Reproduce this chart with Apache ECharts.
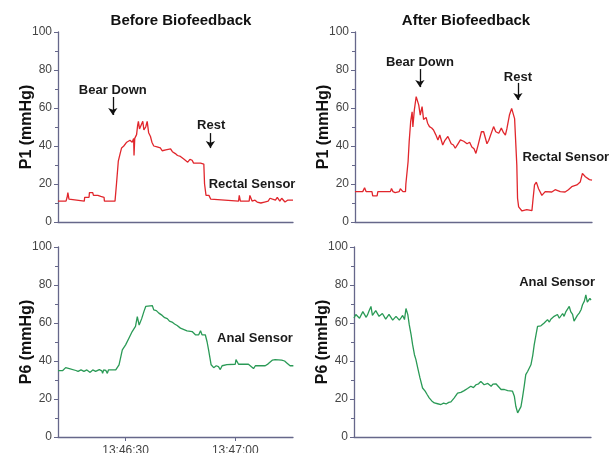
<!DOCTYPE html>
<html>
<head>
<meta charset="utf-8">
<script src="https://cdn.jsdelivr.net/npm/echarts@6/dist/echarts.min.js"></script>
<style>html,body{margin:0;padding:0;background:#fff}#c{width:614px;height:453px}</style>
</head>
<body>
<div id="c"></div>
<script>
// time in seconds after 13:46:00, pressure in mmHg
const panelTitles = ['Before Biofeedback', 'After Biofeedback'];
const yNames = ['P1 (mmHg)', 'P6 (mmHg)'];
const timeTicks = [30, 60];
const yTicks = [0, 20, 40, 60, 80, 100];

const beforeP1 = [[11.5,11],[13.7,11],[14.0,13],[14.2,15.5],[14.5,12],[14.8,11],[18.7,11],[18.8,13],[20.0,13],[20.1,15.5],[21.0,15.5],[21.2,14],[21.6,15],[22.4,14],[22.6,15],[23.2,13.5],[24.1,13],[24.2,11],[27.1,11],[27.5,20],[28.0,32],[28.5,36],[28.9,39],[29.5,40],[30.0,40.5],[30.3,42],[30.8,41],[31.2,43],[31.8,42],[32.2,44],[32.3,35],[32.5,44],[33.0,46],[33.3,51],[33.5,53],[33.8,49],[34.3,50],[34.7,53],[35.0,48.5],[35.5,50],[35.9,53],[36.3,47],[36.8,45],[37.2,42],[37.7,40],[38.6,39.5],[39.0,38.5],[39.5,39],[40.0,37.5],[40.5,37],[41.0,38],[41.5,37.5],[42.3,38.5],[42.8,37],[43.6,36],[44.2,35],[45.0,34.5],[45.5,34],[46.0,33],[46.4,32.5],[47.0,31.5],[47.6,33],[48.2,32.5],[48.6,31],[49.1,31],[50.5,31],[51.0,30.5],[51.4,30.5],[51.6,20],[52.0,14],[52.4,15],[52.8,14],[53.3,12],[53.6,11],[60.9,11],[61.1,14],[61.4,11],[63.8,11],[64.0,14],[64.4,14],[64.6,11],[65.4,11.5],[66.0,10.5],[67.0,10],[68.0,10.5],[68.5,10],[69.0,11],[69.5,12.5],[70.2,12],[70.5,13],[71.0,11.5],[71.5,13],[72.2,11],[72.7,12.5],[73.2,13],[73.6,10.5],[74.3,11.5],[75.8,11.5]];

const afterP1 = [[11.5,16],[13.6,16],[14.1,18],[14.5,16],[16.1,16],[16.3,13.8],[17.5,13.8],[17.7,16],[21.1,16],[21.4,17.6],[21.8,16],[22.4,15.5],[23.5,16],[23.8,17.5],[24.5,16],[25.2,16],[25.3,20],[25.9,31.7],[26.2,42.3],[26.6,52.8],[27.0,58],[27.2,50],[27.6,59],[28.1,66],[28.8,61.5],[29.2,56.3],[29.7,60.7],[30.1,54],[30.8,55],[31.2,52],[31.7,50.2],[32.3,49.5],[32.8,48.4],[33.4,46],[34.0,43.2],[34.5,45.8],[35.3,40.5],[35.9,43],[36.7,45],[37.6,41.2],[38.2,40.5],[38.7,38.8],[39.4,41],[40.1,43.2],[41.0,42.5],[41.9,41.2],[42.6,42],[43.2,39.5],[43.8,38.5],[44.3,36.1],[44.9,40.5],[45.8,47.5],[46.4,47.5],[47.3,41.2],[47.8,43],[48.2,42],[49.1,50.2],[49.7,47.5],[50.5,46.7],[51.2,49.4],[51.8,47],[52.3,45.8],[52.7,49],[53.4,56.3],[54.0,59.8],[54.8,54.4],[55.1,53.5],[55.4,30],[55.6,12.5],[55.9,8],[56.3,9],[56.8,5.8],[58.1,6.5],[59.5,6],[59.8,12],[60.2,19.5],[60.7,21],[61.3,17.5],[62.2,14],[63.1,16],[64.9,15.8],[65.8,17],[67.2,16],[68.5,15.8],[69.4,17],[70.3,18.6],[71.7,19.5],[72.6,21],[73.2,25.6],[74.0,23.8],[75.1,22.3],[75.8,22]];

const beforeP6 = [[11.5,34.9],[12.8,35],[13.2,35.5],[13.6,36.5],[14.1,37.5],[14.6,36],[15.0,35],[16.4,35],[17.0,34.5],[17.8,35.3],[18.6,34.5],[19.4,35.3],[20.3,34],[21.0,35.3],[21.8,34.5],[22.8,35.5],[23.5,34.8],[23.7,33.5],[24.0,35.3],[24.6,35],[25.0,33.5],[25.3,35.3],[27.3,35.3],[28.2,38],[29.1,45.9],[30.0,48.5],[30.9,52],[31.3,51],[31.8,55.5],[32.3,54.5],[32.7,58.2],[33.2,63.4],[33.7,58.9],[34.4,62.3],[35.0,66],[35.5,68.7],[37.3,69.2],[37.7,66.9],[38.4,66.5],[39.1,65.2],[40.0,64],[40.7,62.8],[41.4,62.3],[42.0,61],[42.7,60.5],[43.4,59.5],[44.1,58.7],[45.0,57.3],[46.8,55.9],[48.2,55.5],[48.5,54.5],[49.1,53.8],[50.0,53.8],[50.5,55.9],[50.9,53.8],[51.8,53.8],[52.3,50],[52.7,45.9],[53.4,38],[54.1,36.5],[54.8,37.5],[55.4,37],[55.9,35.5],[56.4,37.5],[56.8,37.5],[57.7,38.1],[60.0,38.3],[60.2,40.7],[60.6,40.5],[60.9,38.3],[63.6,38.3],[64.1,37.5],[65.0,36],[65.5,37.5],[68.2,37.5],[69.0,38.5],[69.5,39.5],[70.2,40.5],[70.9,40.7],[72.7,40.5],[73.5,40],[74.1,39],[75.0,37.5],[75.9,37.5]];

const afterP6 = [[11.5,62.6],[12.0,64.5],[12.5,65.2],[13.0,62.5],[13.4,63.5],[13.9,66.0],[14.3,67.0],[14.8,63.0],[15.2,64.4],[15.6,66.5],[16.1,68.7],[16.5,64.0],[17.0,64.5],[17.4,66.5],[17.9,67.0],[18.3,63.5],[18.8,62.6],[19.2,65.0],[19.7,64.4],[20.1,62.0],[20.6,62.6],[21.0,64.5],[21.5,63.5],[22.0,61.5],[22.4,61.8],[22.9,63.5],[23.3,63.5],[23.8,61.5],[24.2,62.6],[24.7,64.0],[25.2,61.8],[25.6,67.6],[26.1,64.4],[26.5,59.0],[27.0,53.8],[27.4,48.6],[27.9,43.3],[28.3,40.7],[28.8,36.3],[29.4,31.1],[30.1,25.8],[30.8,24.1],[31.3,22.5],[31.9,20.6],[32.6,19.0],[33.3,17.9],[34.2,17.5],[35.1,17.1],[35.8,17.8],[36.5,17.4],[37.2,18.2],[37.8,18.5],[38.7,20.6],[39.6,23.1],[40.5,23.5],[41.4,24.4],[42.3,25.5],[43.2,26.7],[43.9,26.0],[44.6,27.5],[45.3,28.0],[45.9,29.3],[46.4,28.5],[46.8,27.5],[47.3,27.0],[47.8,28.2],[48.2,27.5],[48.7,26.7],[49.2,27.8],[49.6,27.5],[50.0,28.0],[50.5,27.5],[51.4,25.0],[52.3,25.0],[53.2,24.4],[54.5,24.1],[55.0,21.5],[55.4,16.2],[55.9,12.7],[56.3,13.5],[56.8,16.0],[57.2,20.6],[57.7,27.0],[58.1,32.8],[58.6,34.5],[59.1,35.4],[59.5,38.0],[60.0,43.0],[60.4,48.6],[60.9,54.0],[61.3,58.2],[61.8,59.0],[62.2,58.5],[62.7,58.0],[63.1,60.0],[63.6,59.5],[64.0,61.8],[64.5,60.5],[64.9,62.0],[65.4,61.5],[65.8,63.5],[66.3,62.6],[66.7,64.5],[67.2,62.5],[67.6,63.5],[68.1,65.0],[68.5,63.5],[69.0,66.0],[69.4,65.0],[69.9,68.7],[70.3,66.0],[70.8,64.5],[71.2,61.0],[71.7,61.8],[72.1,64.0],[72.6,65.2],[73.1,67.0],[73.5,69.6],[74.0,71.5],[74.4,74.8],[74.8,71.0],[75.1,70.5],[75.5,73.0],[75.8,72.0]];

// annotation labels [time, mmHg, text] and arrows [time, fromMmHg, toMmHg]
const beforeP1Labels = [[26.5,69.5,'Bear Down'],[53.4,51,'Rest'],[64.6,20,'Rectal Sensor']];
const beforeP1Arrows = [[26.5,65.8,56.3],[53.2,46.8,38.9]];
const afterP1Labels = [[29.1,84.2,'Bear Down'],[55.7,76.3,'Rest'],[68.7,34.2,'Rectal Sensor']];
const afterP1Arrows = [[29.1,80.5,71],[55.7,73.2,64.2]];
const beforeP6Labels = [[65.4,51.7,'Anal Sensor']];
const afterP6Labels = [[66.6,81.1,'Anal Sensor']];

const X_MIN = 11.5, X_MAX = 75.8;
const AXIS_COLOR = '#66678a';
const FONT = 'Liberation Sans, Arial, sans-serif';
const RED = '#e1262c', GREEN = '#2a9a56';

function fmtTime(s) {
  const m = 46 + Math.floor(s / 60);
  const sec = Math.round(s % 60);
  return '13:' + m + ':' + String(sec).padStart(2, '0');
}

const grids = [
  {left: 58, top: 32, width: 235, height: 190, outerBoundsMode: 'none', containLabel: false},
  {left: 355, top: 32, width: 237, height: 190, outerBoundsMode: 'none', containLabel: false},
  {left: 58, top: 247, width: 235, height: 190, outerBoundsMode: 'none', containLabel: false},
  {left: 354, top: 247, width: 237, height: 190, outerBoundsMode: 'none', containLabel: false}
];

const xAxes = grids.map((g, i) => ({
  type: 'value', gridIndex: i, min: X_MIN, max: X_MAX,
  axisLine: {show: true, lineStyle: {color: AXIS_COLOR, width: 1.3}},
  axisTick: i === 2 ? {show: true, customValues: timeTicks, length: 4, lineStyle: {color: AXIS_COLOR}} : {show: false},
  axisLabel: i === 2 ? {show: true, customValues: timeTicks, formatter: fmtTime, margin: 8, fontSize: 12, color: '#444', fontFamily: FONT} : {show: false},
  splitLine: {show: false}
}));

const yAxes = grids.map((g, i) => ({
  type: 'value', gridIndex: i, min: yTicks[0], max: yTicks[yTicks.length - 1], interval: 20,
  name: yNames[i < 2 ? 0 : 1], nameLocation: 'middle', nameGap: 23, nameMoveOverlap: false,
  nameTextStyle: {fontSize: 16, fontWeight: 'bold', color: '#111', fontFamily: FONT},
  axisLine: {show: true, lineStyle: {color: AXIS_COLOR, width: 1.3}},
  axisTick: {show: true, length: 4, lineStyle: {color: AXIS_COLOR}},
  minorTick: {show: true, splitNumber: 2, length: 3, lineStyle: {color: AXIS_COLOR}},
  axisLabel: {margin: 6, fontSize: 12, color: '#444', fontFamily: FONT},
  splitLine: {show: false}
}));

function mkSeries(idx, data, color, labels, arrows) {
  return {
    type: 'line', xAxisIndex: idx, yAxisIndex: idx, data: data,
    showSymbol: false, symbol: 'none', lineStyle: {color: color, width: 1.3}, itemStyle: {color: color},
    animation: false, silent: true,
    markPoint: {
      symbol: 'circle', symbolSize: 1, itemStyle: {color: 'rgba(0,0,0,0)'},
      label: {show: true, position: 'inside', formatter: p => p.name, color: '#1a1a1a', fontSize: 13, fontWeight: 'bold', fontFamily: FONT},
      data: labels.map(l => ({coord: [l[0], l[1]], name: l[2]}))
    },
    markLine: arrows ? {
      symbol: ['none', 'arrow'], symbolSize: 7, silent: true,
      label: {show: false},
      lineStyle: {color: '#111', width: 1.3, type: 'solid'},
      data: arrows.map(a => [{coord: [a[0], a[1]]}, {coord: [a[0], a[2]]}])
    } : undefined
  };
}

const chart = echarts.init(document.getElementById('c'), null, {renderer: 'canvas'});
chart.setOption({
  backgroundColor: '#fff',
  animation: false,
  grid: grids,
  xAxis: xAxes,
  yAxis: yAxes,
  graphic: [
    {type: 'text', x: 181, y: 21, style: {text: panelTitles[0], textAlign: 'center', textVerticalAlign: 'middle', font: 'bold 15px ' + FONT, fill: '#111'}},
    {type: 'text', x: 466, y: 21, style: {text: panelTitles[1], textAlign: 'center', textVerticalAlign: 'middle', font: 'bold 15px ' + FONT, fill: '#111'}}
  ],
  series: [
    mkSeries(0, beforeP1, RED, beforeP1Labels, beforeP1Arrows),
    mkSeries(1, afterP1, RED, afterP1Labels, afterP1Arrows),
    mkSeries(2, beforeP6, GREEN, beforeP6Labels, null),
    mkSeries(3, afterP6, GREEN, afterP6Labels, null)
  ]
});
</script>
</body>
</html>
